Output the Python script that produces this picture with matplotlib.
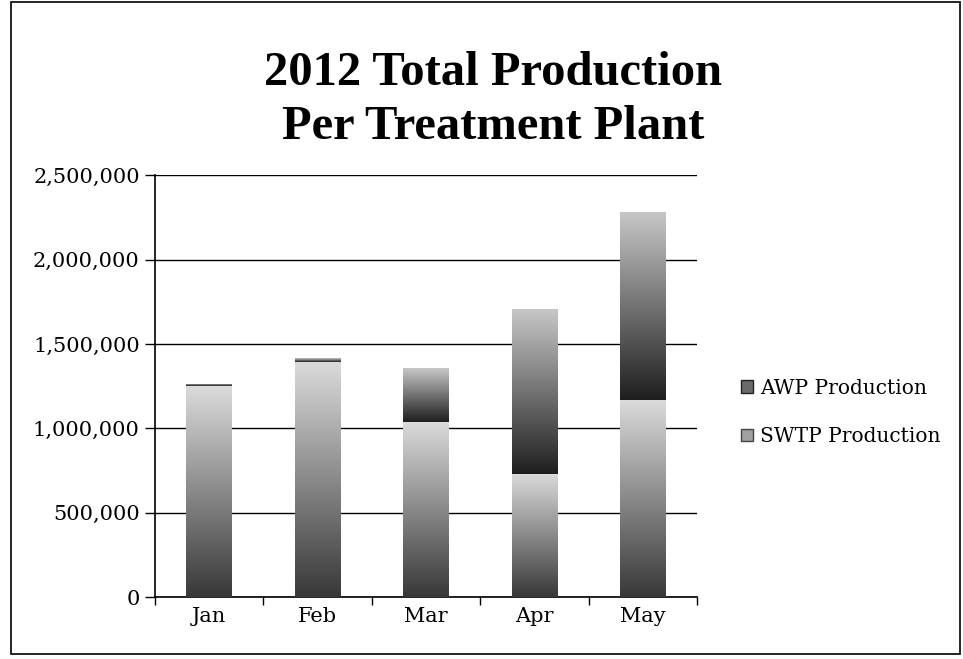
import matplotlib
matplotlib.use("Agg")
import matplotlib.pyplot as plt
import numpy as np
from matplotlib.patches import Rectangle
from matplotlib.ticker import FuncFormatter, FixedLocator

months = ["Jan", "Feb", "Mar", "Apr", "May"]
swtp = [1250000, 1395000, 1040000, 730000, 1170000]
awp = [12000, 22000, 320000, 975000, 1110000]
series_names = ["AWP Production", "SWTP Production"]
title = "2012 Total Production\nPer Treatment Plant"
yticks = [0, 500000, 1000000, 1500000, 2000000, 2500000]

fig = plt.figure(figsize=(9.63, 6.59), dpi=100)
fig.patch.set_facecolor("white")
ax = fig.add_axes([0.161, 0.094, 0.563, 0.640])

x = np.arange(len(months))
width = 0.42
b1 = ax.bar(x, swtp, width, color="#9a9a9a", zorder=2, label=series_names[1])
b2 = ax.bar(x, awp, width, bottom=swtp, color="#555555", zorder=2, label=series_names[0])

def gradient_fill(bars, dark, light):
    grad = np.linspace(0, 1, 256).reshape(-1, 1)
    cols = np.array(dark) + (np.array(light) - np.array(dark)) * grad
    img = np.repeat(cols[:, None, :], 2, axis=1)
    for p in bars:
        x0, y0, w, h = p.get_x(), p.get_y(), p.get_width(), p.get_height()
        im = ax.imshow(img, extent=[x0, x0 + w, y0, y0 + h], origin="lower",
                       aspect="auto", zorder=3, interpolation="bilinear")
        im.set_clip_path(p)
        p.set_facecolor("none")

gradient_fill(b1, (0.22, 0.22, 0.22), (0.86, 0.86, 0.86))
gradient_fill(b2, (0.12, 0.12, 0.12), (0.78, 0.78, 0.78))

ax.set_xlim(-0.5, len(months) - 0.5)
ax.set_ylim(0, 2500000)
ax.yaxis.set_major_locator(FixedLocator(yticks))
ax.yaxis.set_major_formatter(FuncFormatter(lambda v, p: f"{int(v):,}"))
ax.grid(axis="y", color="black", linewidth=1.0, zorder=1)
ax.set_axisbelow(True)

ax.set_xticks(x)
ax.set_xticklabels(months)
ax.set_xticks(np.arange(-0.5, len(months), 1.0), minor=True)
ax.tick_params(axis="x", which="major", length=0, pad=7)
ax.tick_params(axis="x", which="minor", length=6, direction="out", width=1)
ax.tick_params(axis="y", length=7, direction="out", width=1, pad=4)

for lab in ax.get_xticklabels() + ax.get_yticklabels():
    lab.set_fontfamily("DejaVu Serif")
    lab.set_fontsize(15)

for s in ["top", "right"]:
    ax.spines[s].set_visible(False)
for s in ["left", "bottom"]:
    ax.spines[s].set_color("black")
    ax.spines[s].set_linewidth(1.2)

fig.text(0.512, 0.848, title, ha="center", va="center",
         fontfamily="Liberation Serif", fontweight="bold", fontsize=35,
         linespacing=1.3)

handles = [Rectangle((0, 0), 1, 1, facecolor="#6a6a6a", edgecolor="#222222"),
           Rectangle((0, 0), 1, 1, facecolor="#a0a0a0", edgecolor="#444444")]
leg = fig.legend(handles, series_names, loc="center left",
                 bbox_to_anchor=(0.751, 0.374), frameon=False,
                 prop={"family": "DejaVu Serif", "size": 14.5},
                 handlelength=0.6, handleheight=0.6, handletextpad=0.35,
                 labelspacing=1.45)

fig.add_artist(Rectangle((0.011, 0.008), 0.986, 0.989, transform=fig.transFigure,
                         fill=False, edgecolor="black", linewidth=1.2))

fig.savefig("out.png", dpi=100)
